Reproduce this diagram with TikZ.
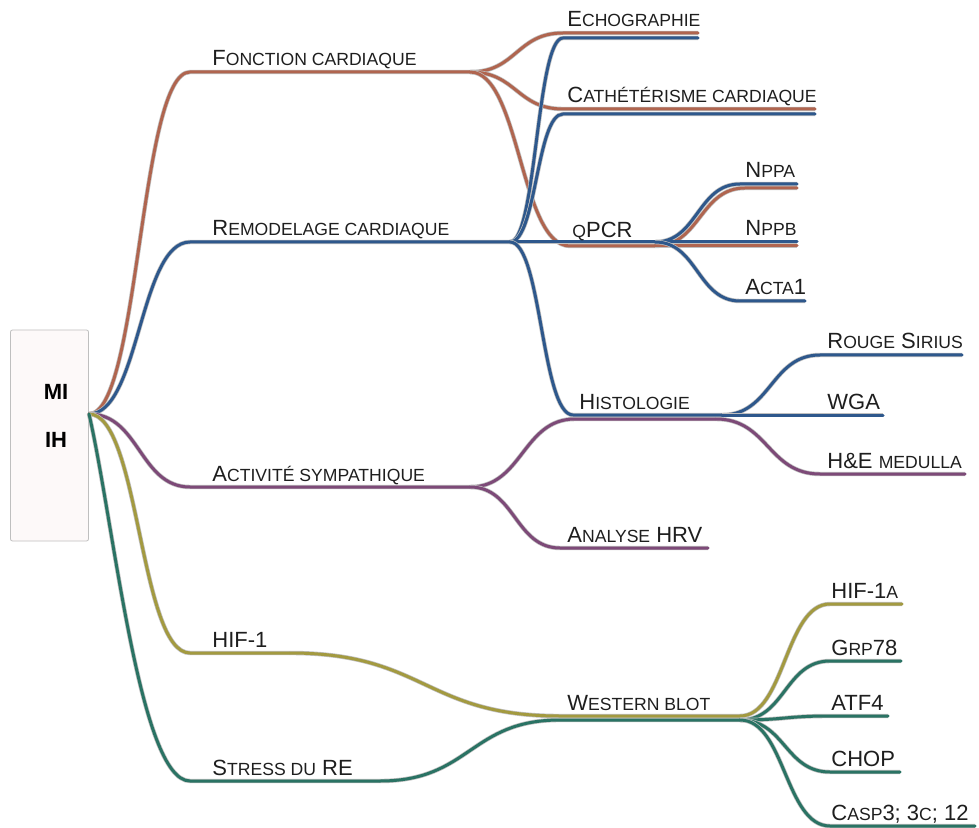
\documentclass[tikz,border=0pt]{standalone}
\usepackage{fontspec}
\setmainfont{Liberation Sans}
\usetikzlibrary{calc}

\definecolor{fccol}{RGB}{176,101,79}
\definecolor{rccol}{RGB}{46,88,140}
\definecolor{ascol}{RGB}{125,74,120}
\definecolor{hifcol}{RGB}{163,154,64}
\definecolor{recol}{RGB}{42,115,100}
\definecolor{txtcol}{RGB}{30,30,30}
\definecolor{rootfill}{RGB}{253,249,249}

% fake small capitals
\newcommand{\lc}[1]{{\fontsize{8.8}{10}\selectfont #1}}

\tikzset{
  branch/.style={line width=1.5pt, line cap=round, line join=round,
    preaction={draw=black!25, line width=2.2pt}},
  fcline/.style={branch, draw=fccol},
  rcline/.style={branch, draw=rccol},
  asline/.style={branch, draw=ascol},
  hifline/.style={branch, draw=hifcol},
  reline/.style={branch, draw=recol},
  swing/.style={to path={let \p1=(\tikztostart), \p2=(\tikztotarget),
    \n1={0.5*(\x2-\x1)} in .. controls +(\n1,0pt) and +(-\n1,0pt) .. (\tikztotarget)}},
  dropswing/.style={to path={let \p1=(\tikztostart), \p2=(\tikztotarget),
    \n1={0.25*(\x2-\x1)}, \n2={0.3*(\y2-\y1)}, \n3={0.5*(\x2-\x1)} in
    .. controls +(\n1,\n2) and +(-\n3,0pt) .. (\tikztotarget)}},
  lbl/.style={anchor=base west, inner sep=0pt, text=txtcol,
    font=\fontsize{11}{13}\selectfont},
  rootbox/.style={draw=black!25, fill=rootfill, rounded corners=1pt,
    minimum width=39pt, minimum height=105.5pt, inner sep=0pt},
  roottxt/.style={inner sep=0pt, text=black, font=\fontsize{11}{13}\selectfont\bfseries}
}

\begin{document}
\begin{tikzpicture}[x=0.5pt, y=-0.5pt]
  \useasboundingbox (0,0) rectangle (979,828);

  % Root
  \node[rootbox] (root) at (49.5,435.5) {};
  \node[roottxt] (mi) at (56,392) {MI};
  \node[roottxt] (ih) at (56,440) {IH};
  \coordinate (hub) at (89,414);

  % Level 1
  \coordinate (fc-s) at (190,72);   \coordinate (fc-e) at (470,72);
  \coordinate (rc-s) at (190,242);  \coordinate (rc-e) at (510,242);
  \coordinate (as-s) at (190,487);  \coordinate (as-e) at (470,487);
  \coordinate (hif-s) at (190,653); \coordinate (hif-e) at (290,653);
  \coordinate (re-s) at (190,781);  \coordinate (re-e) at (380,781);

  % Level 2
  \coordinate (echo-fc-s) at (563,33);   \coordinate (echo-fc-e) at (698,33);
  \coordinate (echo-rc-s) at (563,38);   \coordinate (echo-rc-e) at (698,38);
  \coordinate (cath-fc-s) at (563,109);  \coordinate (cath-fc-e) at (815,109);
  \coordinate (cath-rc-s) at (563,114);  \coordinate (cath-rc-e) at (815,114);
  \coordinate (qpcr-rc-e) at (655,242);
  \coordinate (qpcr-fc-s) at (570,246);  \coordinate (qpcr-fc-e) at (655,246);
  \coordinate (histo-rc-s) at (573,415); \coordinate (histo-rc-e) at (722,415);
  \coordinate (histo-as-s) at (575,419); \coordinate (histo-as-e) at (716,419);
  \coordinate (hrv-s) at (560,548);      \coordinate (hrv-e) at (708,548);
  \coordinate (wb-hif-s) at (560,716);   \coordinate (wb-hif-e) at (740,716);
  \coordinate (wb-re-s) at (560,720);    \coordinate (wb-re-e) at (740,720);

  % Level 3
  \coordinate (nppa-rc-s) at (740,184);  \coordinate (nppa-rc-e) at (797,184);
  \coordinate (nppa-fc-s) at (745,188);  \coordinate (nppa-fc-e) at (797,188);
  \coordinate (nppb-rc-e) at (797,242);  \coordinate (nppb-fc-e) at (797,246);
  \coordinate (acta-s) at (740,301);     \coordinate (acta-e) at (805,301);
  \coordinate (rouge-s) at (820,355);    \coordinate (rouge-e) at (962,355);
  \coordinate (wga-e) at (883,415);
  \coordinate (hne-s) at (820,474);      \coordinate (hne-e) at (965,474);
  \coordinate (hifa-s) at (830,604);     \coordinate (hifa-e) at (902,604);
  \coordinate (grp-s) at (830,661);      \coordinate (grp-e) at (901,661);
  \coordinate (atf-s) at (830,716);      \coordinate (atf-e) at (888,716);
  \coordinate (chop-s) at (830,772);     \coordinate (chop-e) at (900,772);
  \coordinate (casp-s) at (830,826);     \coordinate (casp-e) at (975,826);

  % Fonction cardiaque
  \draw[fcline] (hub) to[swing] (fc-s) -- (fc-e);
  \draw[fcline] (fc-e) to[swing] (echo-fc-s) -- (echo-fc-e);
  \draw[fcline] (fc-e) to[swing] (cath-fc-s) -- (cath-fc-e);
  \draw[fcline] (fc-e) to[swing] (qpcr-fc-s) -- (qpcr-fc-e);
  \draw[fcline] (qpcr-fc-e) to[swing] (nppa-fc-s) -- (nppa-fc-e);
  \draw[fcline] (qpcr-fc-e) -- (nppb-fc-e);

  % Remodelage cardiaque
  \draw[rcline] (hub) to[swing] (rc-s) -- (rc-e);
  \draw[rcline] (rc-e) to[swing] (echo-rc-s) -- (echo-rc-e);
  \draw[rcline] (rc-e) to[swing] (cath-rc-s) -- (cath-rc-e);
  \draw[rcline] (rc-e) -- (qpcr-rc-e);
  \draw[rcline] (qpcr-rc-e) to[swing] (nppa-rc-s) -- (nppa-rc-e);
  \draw[rcline] (qpcr-rc-e) -- (nppb-rc-e);
  \draw[rcline] (qpcr-rc-e) to[swing] (acta-s) -- (acta-e);
  \draw[rcline] (rc-e) to[swing] (histo-rc-s) -- (histo-rc-e);
  \draw[rcline] (histo-rc-e) to[swing] (rouge-s) -- (rouge-e);
  \draw[rcline] (histo-rc-e) -- (wga-e);

  % Activite sympathique
  \draw[asline] (hub) to[swing] (as-s) -- (as-e);
  \draw[asline] (as-e) to[swing] (histo-as-s) -- (histo-as-e);
  \draw[asline] (histo-as-e) to[swing] (hne-s) -- (hne-e);
  \draw[asline] (as-e) to[swing] (hrv-s) -- (hrv-e);

  % HIF-1
  \draw[hifline] (hub) to[swing] (hif-s) -- (hif-e);
  \draw[hifline] (hif-e) to[swing] (wb-hif-s) -- (wb-hif-e);
  \draw[hifline] (wb-hif-e) to[swing] (hifa-s) -- (hifa-e);

  % Stress du RE
  \draw[reline] (hub) to[dropswing] (re-s) -- (re-e);
  \draw[reline] (re-e) to[swing] (wb-re-s) -- (wb-re-e);
  \draw[reline] (wb-re-e) to[swing] (grp-s) -- (grp-e);
  \draw[reline] (wb-re-e) to[swing] (atf-s) -- (atf-e);
  \draw[reline] (wb-re-e) to[swing] (chop-s) -- (chop-e);
  \draw[reline] (wb-re-e) to[swing] (casp-s) -- (casp-e);

  % Labels
  \node[lbl] (fc) at (212,66) {F\lc{ONCTION CARDIAQUE}};
  \node[lbl] (rc) at (212,236) {R\lc{EMODELAGE CARDIAQUE}};
  \node[lbl] (as) at (212,481) {A\lc{CTIVITÉ SYMPATHIQUE}};
  \node[lbl] (hif) at (212,647) {HIF-1};
  \node[lbl] (re) at (212,775) {S\lc{TRESS DU} RE};
  \node[lbl] (echo) at (567,27) {E\lc{CHOGRAPHIE}};
  \node[lbl] (cath) at (567,103) {C\lc{ATHÉTÉRISME CARDIAQUE}};
  \node[lbl] (qpcr) at (572,238) {\lc{Q}PCR};
  \node[lbl] (histo) at (579,409) {H\lc{ISTOLOGIE}};
  \node[lbl] (hrv) at (567,542) {A\lc{NALYSE} HRV};
  \node[lbl] (wb) at (567,710) {W\lc{ESTERN BLOT}};
  \node[lbl] (nppa) at (745,178) {N\lc{PPA}};
  \node[lbl] (nppb) at (745,236) {N\lc{PPB}};
  \node[lbl] (acta) at (745,295) {A\lc{CTA}1};
  \node[lbl] (rouge) at (827,349) {R\lc{OUGE} S\lc{IRIUS}};
  \node[lbl] (wga) at (827,409) {WGA};
  \node[lbl] (hne) at (827,468) {H\&E \lc{MEDULLA}};
  \node[lbl] (hifa) at (831,598) {HIF-1\lc{A}};
  \node[lbl] (grp) at (831,655) {G\lc{RP}78};
  \node[lbl] (atf) at (831,710) {ATF4};
  \node[lbl] (chop) at (831,766) {CHOP};
  \node[lbl] (casp) at (831,820) {C\lc{ASP}3; 3\lc{C}; 12};
\end{tikzpicture}
\end{document}
